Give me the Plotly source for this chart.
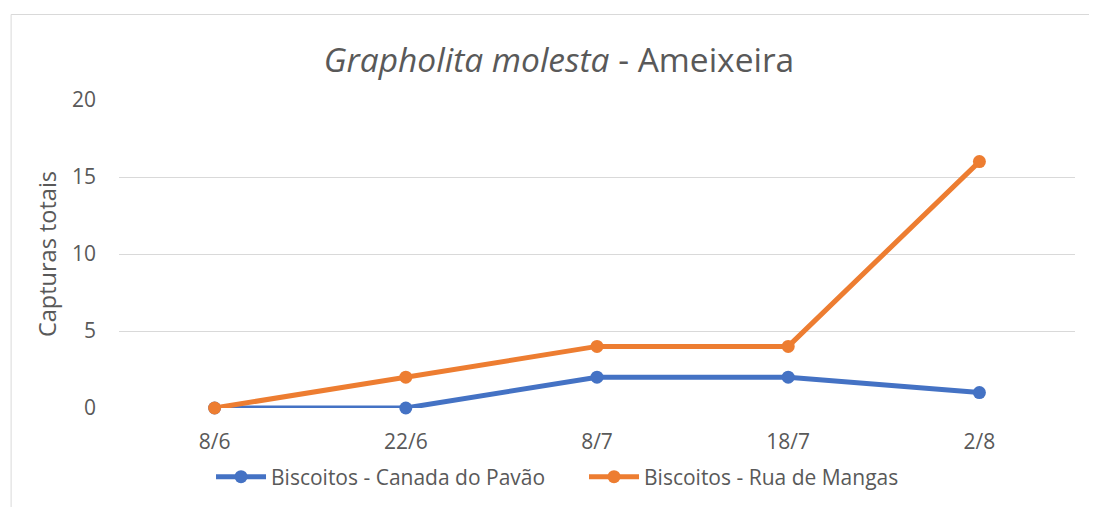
import plotly.graph_objects as go

categories = ["8/6", "22/6", "8/7", "18/7", "2/8"]
canada = [0, 0, 2, 2, 1]
mangas = [0, 2, 4, 4, 16]
y_ticks = [0, 5, 10, 15, 20]

FONT = "Open Sans"
GREY = "#595959"

fig = go.Figure()
fig.add_trace(go.Scatter(x=categories, y=canada, mode="lines+markers",
                         name="Biscoitos - Canada do Pavão", cliponaxis=False,
                         line=dict(color="#4472C4", width=5),
                         marker=dict(size=13, color="#4472C4")))
fig.add_trace(go.Scatter(x=categories, y=mangas, mode="lines+markers",
                         name="Biscoitos - Rua de Mangas", cliponaxis=False,
                         line=dict(color="#ED7D31", width=5),
                         marker=dict(size=13, color="#ED7D31")))

# page body adds an 8px offset; positions below are in window pixels
OFF = 8
W, H = 1097, 507
PL, PR, PT, PB = 118.5, 1075.5, 100, 408   # plot area in window px
L, T = PL - OFF, PT - OFF
R, B = W - (PR - OFF), H - (PB - OFF)
pw = PR - PL
ph = PB - PT

def px_x(x):
    return (x - PL) / pw

def px_y(y):
    return (PB - y) / ph

fig.update_layout(
    width=W, height=H,
    margin=dict(l=L, r=R, t=T, b=B, autoexpand=False),
    paper_bgcolor="white", plot_bgcolor="white",
    font=dict(family=FONT, color=GREY, size=21),
    title=dict(text="<i>Grapholita molesta</i> - Ameixeira",
               xref="container", x=(559 - OFF) / W, xanchor="center",
               yref="container", y=1 - (60 - OFF) / H, yanchor="middle",
               font=dict(size=33.5, color=GREY, family=FONT)),
    xaxis=dict(type="category", showgrid=False, zeroline=False,
               showline=False, ticks="", tickfont=dict(size=21, color=GREY),
               range=[-0.5, 4.5], automargin=False, ticklabelstandoff=19),
    yaxis=dict(range=[0, 20], tickvals=y_ticks, showgrid=True,
               gridcolor="#D9D9D9", gridwidth=1, zeroline=False,
               showline=False, ticks="", ticklabelstandoff=22,
               automargin=False,
               tickfont=dict(size=21, color=GREY),
               title=dict(text="Capturas totais", standoff=8,
                          font=dict(size=23.5, color=GREY))),
    legend=dict(orientation="h", x=px_x(584), xanchor="center",
                y=px_y(477), yanchor="middle",
                font=dict(size=21, color=GREY), itemwidth=50,
                entrywidth=308, entrywidthmode="pixels"),
    showlegend=True,
    shapes=[
        dict(type="line", xref="paper", yref="paper",
             x0=px_x(10.5), x1=px_x(1110), y0=px_y(14.5), y1=px_y(14.5),
             line=dict(color="#D9D9D9", width=1)),
        dict(type="line", xref="paper", yref="paper",
             x0=px_x(10.5), x1=px_x(10.5), y0=px_y(14.5), y1=px_y(520),
             line=dict(color="#D9D9D9", width=1)),
    ],
)

fig.write_html("out.html")
